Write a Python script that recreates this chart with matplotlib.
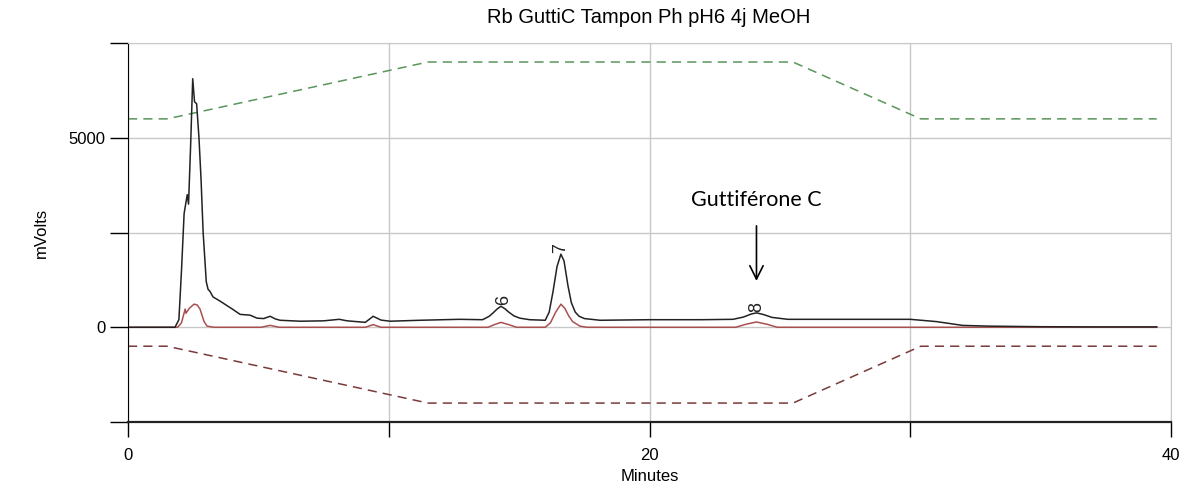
import matplotlib
matplotlib.use("Agg")
import matplotlib.pyplot as plt

plt.rcParams['font.family'] = ['Liberation Sans', 'DejaVu Sans']

# detector trace (black), time in minutes, signal in mV
black_t = [0, 1.8, 1.95, 2.05, 2.15, 2.27, 2.32, 2.4, 2.48, 2.55, 2.63, 2.72, 2.8, 2.88, 3.0,
           3.07, 3.14, 3.26, 3.53, 4.0, 4.3, 4.68, 4.95, 5.2, 5.45, 5.65, 5.83, 6.6, 7.5, 8.1,
           8.4, 9.1, 9.4, 9.7, 10.05, 11.2, 12.7, 13.6, 13.85, 14.0, 14.15, 14.3, 14.45, 14.6,
           14.8, 15.03, 15.4, 16.0, 16.15, 16.3, 16.45, 16.6, 16.72, 16.87, 17.0, 17.15, 17.3,
           17.5, 18.1, 20.0, 22.0, 23.2, 23.6, 23.9, 24.1, 24.35, 24.7, 25.3, 27.0, 30.0, 31.0,
           32.0, 33.0, 35.0, 37.0, 39.45]
black_v = [0, 0, 200, 1500, 3000, 3500, 3250, 4800, 6560, 5950, 5900, 5000, 3900, 2500, 1200,
           1000, 950, 800, 690, 480, 340, 320, 240, 230, 290, 220, 185, 160, 170, 210,
           170, 130, 290, 190, 160, 185, 210, 200, 290, 380, 480, 555, 490, 400,
           300, 240, 200, 185, 400, 950, 1600, 1930, 1750, 1100, 650, 400, 290,
           230, 185, 200, 200, 210, 270, 350, 380, 340, 260, 210, 210, 210, 150,
           50, 30, 15, 10, 10]

# second channel (red)
red_t = [0, 1.9, 2.05, 2.19, 2.22, 2.35, 2.53, 2.65, 2.76, 2.91, 3.03, 3.3, 5.1, 5.45, 5.8,
         9.1, 9.4, 9.7, 13.8, 14.05, 14.3, 14.6, 14.9, 16.0, 16.2, 16.4, 16.6, 16.75, 16.9,
         17.05, 17.33, 17.6, 23.3, 23.7, 24.1, 24.5, 24.9, 39.45]
red_v = [0, 0, 120, 480, 370, 500, 610, 590, 480, 160, 30, 0, 0, 50, 0,
         0, 70, 0, 0, 70, 130, 70, 0, 0, 120, 400, 610, 500, 300,
         150, 30, 0, 0, 80, 140, 80, 0, 0]

# gradient programs (dashed)
green_t = [0, 1.5, 11.5, 25.5, 30.4, 39.45]
green_v = [5500, 5500, 7000, 7000, 5500, 5500]
brown_t = [0, 1.5, 11.5, 25.5, 30.4, 39.45]
brown_v = [-500, -500, -2000, -2000, -500, -500]

peak_names = ['6', '7', '8']
peak_t = [14.4, 16.6, 24.1]
peak_y = [590, 1950, 410]

fig = plt.figure(figsize=(11.9, 4.93), dpi=100)
ax = fig.add_axes([0.1076, 0.144, 0.8765, 0.7686])

ax.plot(green_t, green_v, color='#5a955a', lw=1.1, ls=(0, (6, 4)))
ax.plot(brown_t, brown_v, color='#7a3a3a', lw=1.1, ls=(0, (6, 4)))
ax.plot(red_t, red_v, color='#a85050', lw=1.1)
ax.plot(black_t, black_v, color='#222222', lw=1.1)

for name, t, y in zip(peak_names, peak_t, peak_y):
    ax.text(t, y, name, rotation=90, ha='center', va='bottom', fontsize=13, color='#222222')

ax.annotate('', xy=(24.1, 1150), xytext=(24.1, 2750),
            arrowprops=dict(arrowstyle='->', color='black', lw=1.2, mutation_scale=24))
ax.text(24.1, 3360, 'Guttiférone C', ha='center', va='center', fontsize=15.5,
        family=['Lato', 'DejaVu Sans'])

ax.set_xlim(0, 40)
ax.set_ylim(-2500, 7500)
ax.set_xticks([0, 10, 20, 30, 40])
ax.set_xticklabels(['0', '', '20', '', '40'])
ax.set_yticks([-2500, 0, 2500, 5000, 7500])
ax.set_yticklabels(['', '0', '', '5000', ''])
ax.tick_params(axis='y', length=13, width=1, labelsize=12, pad=3)
ax.tick_params(axis='x', length=11, width=1, labelsize=12, pad=8)
ax.grid(True, color='#c8c8c8', lw=1)
ax.set_axisbelow(True)

ax.spines['top'].set_color('#c8c8c8')
ax.spines['right'].set_color('#c8c8c8')
ax.spines['left'].set_color('black')
ax.spines['bottom'].set_color('#222222')
ax.spines['bottom'].set_linewidth(1.6)

ax.set_xlabel('Minutes', fontsize=12, labelpad=4)
ax.set_ylabel('mVolts', fontsize=12, labelpad=14)
fig.text(0.545, 0.965, 'Rb GuttiC Tampon Ph pH6 4j MeOH', ha='center', va='center', fontsize=14.5)

fig.savefig('out.png', dpi=100)
